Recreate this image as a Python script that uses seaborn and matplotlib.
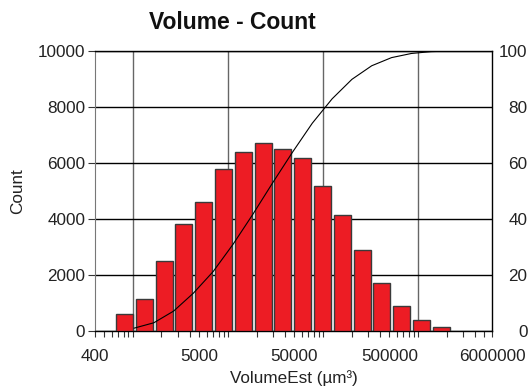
# Volume - Count ヒストグラム + 累積曲線
import numpy as np
import pandas as pd
import matplotlib
matplotlib.use("Agg")
import matplotlib.pyplot as plt
from matplotlib.ticker import LogLocator, FixedLocator, NullFormatter
import seaborn as sns

# ビン境界 (µm³) と度数
bin_edges = [637, 1029, 1663, 2687, 4341, 7015, 11335, 18312, 29590, 47810,
             77270, 124860, 201740, 326000, 526700, 851100, 1375000, 2222000]
counts = [600, 1150, 2490, 3820, 4610, 5780, 6380, 6700, 6500, 6180,
          5180, 4150, 2890, 1730, 880, 400, 130]
x_ticks = [400, 5000, 50000, 500000, 6000000]
x_tick_labels = ["400", "5000", "50000", "500000", "6000000"]
x_range = (400, 6000000)

sns.set_style("white")
plt.rcParams['font.family'] = ['Liberation Sans', 'DejaVu Sans']

edges = np.array(bin_edges, dtype=float)
df = pd.DataFrame({"volume": np.sqrt(edges[:-1] * edges[1:]), "count": counts})
cum_pct = np.cumsum(counts) / np.sum(counts) * 100
log_edges = np.log10(edges)
bw = float(np.mean(np.diff(log_edges)))

fig = plt.figure(figsize=(5.29, 3.86), dpi=100)
ax = fig.add_axes([0.1796, 0.1425, 0.930 - 0.1796, 0.8679 - 0.1425])

sns.histplot(data=df, x="volume", weights="count", log_scale=True,
             binwidth=bw, binrange=(log_edges[0], log_edges[-1]),
             shrink=0.86, color="#ED1C24", edgecolor="#3a3a3a", linewidth=1.0,
             alpha=1, ax=ax, zorder=3)

ax.set_xlim(*x_range)
ax.set_ylim(0, 10000)
ax.set_yticks(range(0, 10001, 2000))
ax.yaxis.grid(True, color="black", linewidth=1.0, zorder=0)
for d in [1e3, 1e4, 1e5, 1e6]:
    ax.axvline(d, color="#666666", linewidth=1.0, zorder=0)
ax.set_axisbelow(True)

ax.xaxis.set_major_locator(FixedLocator(x_ticks))
ax.set_xticklabels(x_tick_labels)
ax.xaxis.set_minor_locator(LogLocator(base=10, subs=np.arange(1, 10), numticks=20))
ax.xaxis.set_minor_formatter(NullFormatter())
ax.tick_params(axis="x", which="both", direction="out", length=4, width=0.8,
               color="#333333", labelsize=12.3, pad=9, bottom=True,
               labelcolor="#222222")
ax.tick_params(axis="y", direction="out", length=5, width=0.8, color="#333333",
               labelsize=12.3, pad=2, left=True, labelcolor="#222222")

for side in ["top", "bottom", "right"]:
    ax.spines[side].set_color("black")
    ax.spines[side].set_linewidth(1.0)
ax.spines["left"].set_color("#777777")

ax.set_xlabel("VolumeEst (µm³)", fontsize=12.3, labelpad=4, color="#222222")
ax.set_ylabel("Count", fontsize=12.3, labelpad=9, color="#222222")
fig.text(232 / 529, 1 - 29 / 386, "Volume - Count", fontsize=16.5,
         fontweight="bold", ha="center", va="baseline", color="#111111")

# 累積 (%)
ax2 = ax.twinx()
line_x = list(edges[1:]) + [x_range[1]]
line_y = list(cum_pct) + [100]
sns.lineplot(x=line_x, y=line_y, color="black", linewidth=0.8, ax=ax2)
ax2.set_ylim(0, 100)
ax2.set_yticks(range(0, 101, 20))
ax2.tick_params(axis="y", length=0, labelsize=12.3, pad=25.5,
                labelcolor="#222222")
for lbl in ax2.get_yticklabels():
    lbl.set_horizontalalignment("right")
ax2.set_xlim(*x_range)
for s in ax2.spines.values():
    s.set_visible(False)

fig.savefig("out.png", dpi=100)
